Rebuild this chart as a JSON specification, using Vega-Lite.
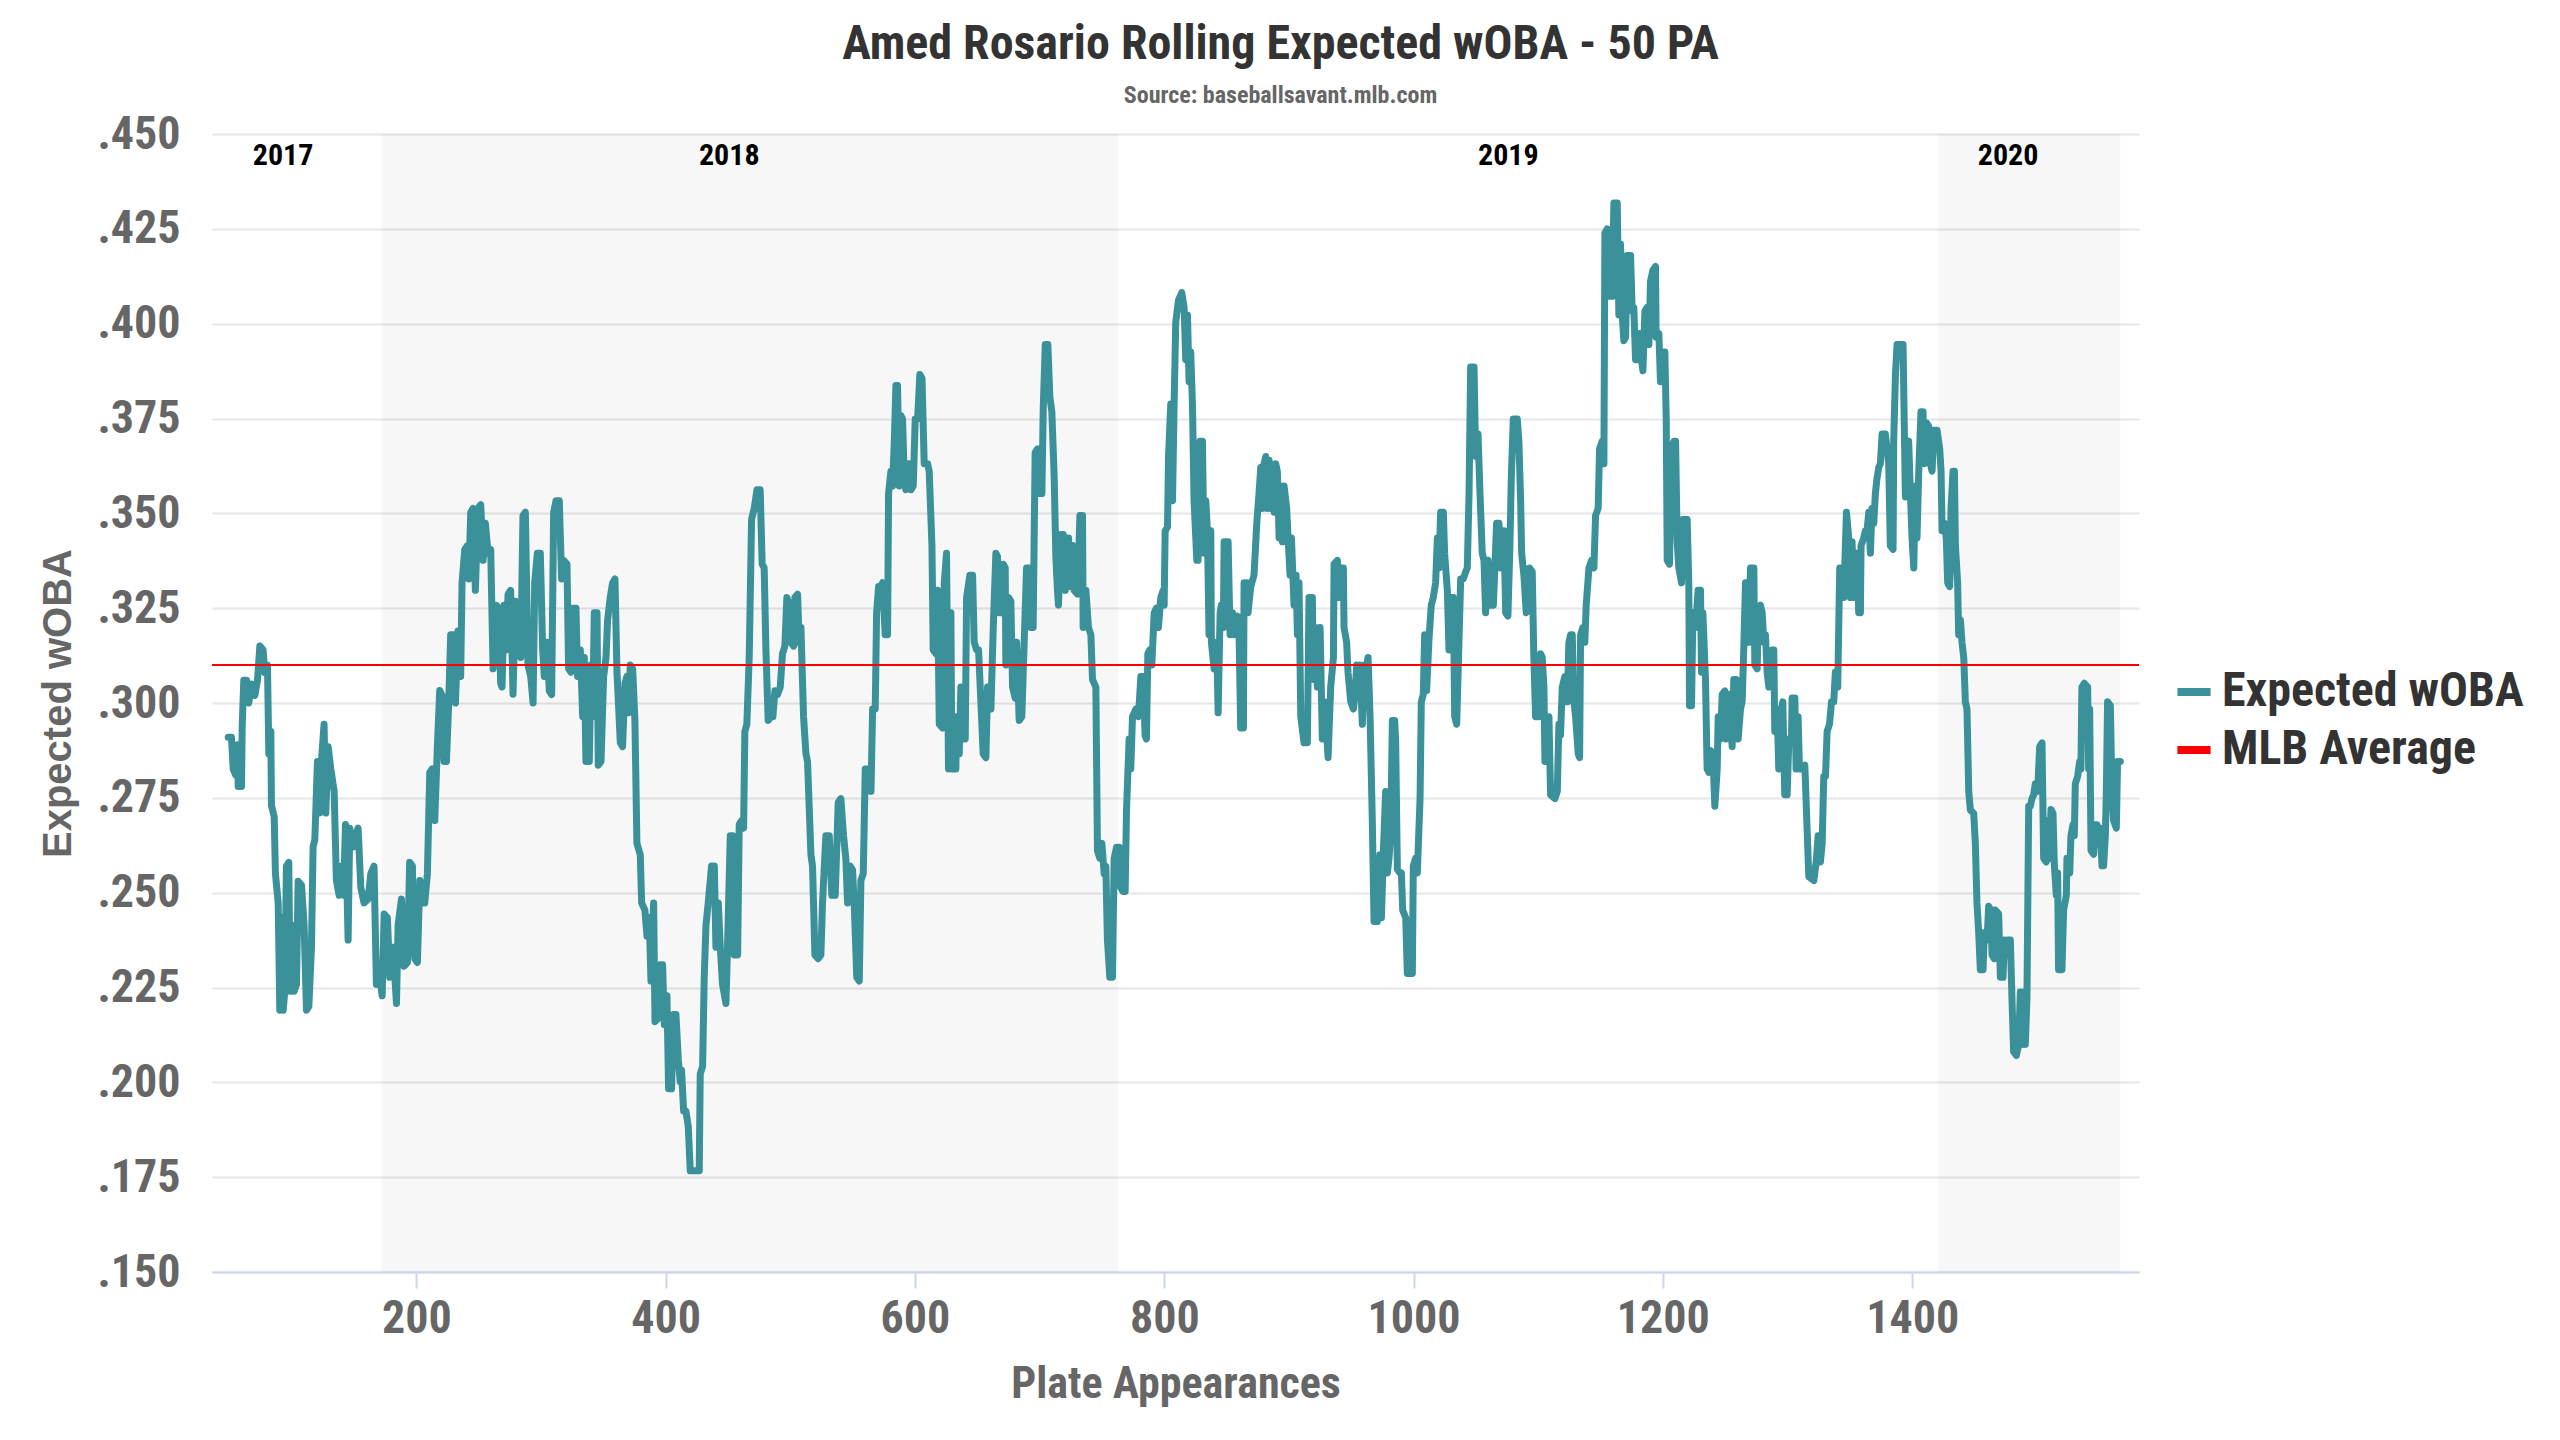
{
  "$schema": "https://vega.github.io/schema/vega-lite/v6.json",
  "width": 1927,
  "height": 1138,
  "autosize": {"type": "none"},
  "padding": {"left": 212, "top": 134, "right": 421, "bottom": 168},
  "background": "white",
  "title": {
    "text": "Amed Rosario Rolling Expected wOBA - 50 PA",
    "subtitle": "Source: baseballsavant.mlb.com",
    "anchor": "middle",
    "dx": 105,
    "offset": 3,
    "font": "Roboto Condensed, Liberation Sans Narrow, Roboto, sans-serif",
    "fontSize": 48,
    "fontWeight": "bold",
    "color": "#333333",
    "subtitleFont": "Roboto Condensed, Liberation Sans Narrow, Roboto, sans-serif",
    "subtitleFontSize": 24,
    "subtitleFontWeight": "bold",
    "subtitleColor": "#666666",
    "subtitlePadding": 15
  },
  "datasets": {
    "bands": [
      {"start": 172, "end": 763},
      {"start": 1421, "end": 1567}
    ],
    "years": [
      {"pa": 93, "v": 0.4441, "label": "2017"},
      {"pa": 451, "v": 0.4441, "label": "2018"},
      {"pa": 1076, "v": 0.4441, "label": "2019"},
      {"pa": 1477, "v": 0.4441, "label": "2020"}
    ],
    "average": [
      {"v": 0.31}
    ],
    "xwoba": [
      {"pa":49.0,"v":0.291},{"pa":51.6,"v":0.291},{"pa":53.0,"v":0.2826},{"pa":54.9,"v":0.281},{"pa":56.5,"v":0.289},{"pa":57.0,"v":0.278},{"pa":59.7,"v":0.278},{"pa":60.2,"v":0.2935},{"pa":61.5,"v":0.306},{"pa":63.7,"v":0.306},{"pa":65.5,"v":0.300},{"pa":67.7,"v":0.305},{"pa":70.4,"v":0.302},{"pa":72.5,"v":0.306},{"pa":74.4,"v":0.315},{"pa":77.0,"v":0.314},{"pa":78.4,"v":0.308},{"pa":80.5,"v":0.310},{"pa":81.6,"v":0.2866},{"pa":83.2,"v":0.2925},{"pa":83.7,"v":0.273},{"pa":85.9,"v":0.270},{"pa":86.9,"v":0.255},{"pa":89.1,"v":0.2473},{"pa":90.4,"v":0.219},{"pa":92.3,"v":0.2434},{"pa":93.1,"v":0.219},{"pa":94.4,"v":0.224},{"pa":95.7,"v":0.257},{"pa":97.6,"v":0.258},{"pa":98.7,"v":0.224},{"pa":100.3,"v":0.2414},{"pa":101.9,"v":0.224},{"pa":103.8,"v":0.2258},{"pa":105.1,"v":0.253},{"pa":107.8,"v":0.252},{"pa":109.9,"v":0.2414},{"pa":111.8,"v":0.219},{"pa":113.7,"v":0.220},{"pa":115.8,"v":0.2356},{"pa":117.1,"v":0.262},{"pa":118.5,"v":0.264},{"pa":120.6,"v":0.2846},{"pa":122.5,"v":0.271},{"pa":123.8,"v":0.2846},{"pa":125.9,"v":0.2944},{"pa":127.3,"v":0.271},{"pa":129.2,"v":0.2885},{"pa":131.3,"v":0.2826},{"pa":134.0,"v":0.2767},{"pa":135.8,"v":0.2532},{"pa":138.0,"v":0.2493},{"pa":139.9,"v":0.257},{"pa":141.5,"v":0.2493},{"pa":143.1,"v":0.268},{"pa":145.2,"v":0.2375},{"pa":146.5,"v":0.267},{"pa":149.2,"v":0.262},{"pa":151.1,"v":0.265},{"pa":153.2,"v":0.267},{"pa":155.4,"v":0.2513},{"pa":158.0,"v":0.2473},{"pa":161.2,"v":0.2483},{"pa":163.4,"v":0.255},{"pa":166.0,"v":0.257},{"pa":167.9,"v":0.2258},{"pa":170.6,"v":0.2277},{"pa":172.5,"v":0.2228},{"pa":174.1,"v":0.2444},{"pa":176.7,"v":0.2434},{"pa":178.6,"v":0.2277},{"pa":181.3,"v":0.2356},{"pa":184.0,"v":0.2208},{"pa":185.3,"v":0.2414},{"pa":188.0,"v":0.2483},{"pa":190.1,"v":0.2306},{"pa":192.8,"v":0.2316},{"pa":194.6,"v":0.258},{"pa":196.8,"v":0.257},{"pa":197.3,"v":0.2414},{"pa":198.7,"v":0.2326},{"pa":200.8,"v":0.2316},{"pa":202.7,"v":0.2532},{"pa":204.5,"v":0.2473},{"pa":206.7,"v":0.2473},{"pa":208.8,"v":0.255},{"pa":210.7,"v":0.2817},{"pa":212.6,"v":0.2826},{"pa":214.7,"v":0.269},{"pa":216.8,"v":0.2885},{"pa":218.7,"v":0.3033},{"pa":220.6,"v":0.302},{"pa":222.2,"v":0.2846},{"pa":224.1,"v":0.2846},{"pa":225.9,"v":0.300},{"pa":227.5,"v":0.318},{"pa":230.2,"v":0.318},{"pa":231.3,"v":0.300},{"pa":233.4,"v":0.319},{"pa":235.5,"v":0.307},{"pa":236.6,"v":0.3317},{"pa":238.8,"v":0.3405},{"pa":240.9,"v":0.3415},{"pa":242.0,"v":0.3327},{"pa":243.6,"v":0.3503},{"pa":245.4,"v":0.3513},{"pa":247.3,"v":0.3297},{"pa":249.4,"v":0.3513},{"pa":251.6,"v":0.3523},{"pa":253.5,"v":0.3376},{"pa":255.3,"v":0.3474},{"pa":257.5,"v":0.3395},{"pa":259.6,"v":0.3405},{"pa":261.5,"v":0.309},{"pa":264.1,"v":0.3258},{"pa":266.0,"v":0.325},{"pa":267.6,"v":0.3052},{"pa":268.7,"v":0.3042},{"pa":270.3,"v":0.3258},{"pa":272.2,"v":0.314},{"pa":273.5,"v":0.3287},{"pa":275.6,"v":0.3297},{"pa":277.5,"v":0.3023},{"pa":279.4,"v":0.3268},{"pa":281.5,"v":0.3199},{"pa":283.7,"v":0.312},{"pa":285.5,"v":0.3494},{"pa":287.4,"v":0.3503},{"pa":289.5,"v":0.310},{"pa":291.7,"v":0.307},{"pa":293.6,"v":0.300},{"pa":294.9,"v":0.3317},{"pa":297.0,"v":0.3395},
      {"pa":299.4,"v":0.3395},{"pa":301.3,"v":0.314},{"pa":302.6,"v":0.307},{"pa":304.8,"v":0.316},{"pa":306.6,"v":0.3032},{"pa":308.5,"v":0.3022},{"pa":310.1,"v":0.3503},{"pa":312.0,"v":0.3533},{"pa":314.6,"v":0.3533},{"pa":316.5,"v":0.3327},{"pa":318.1,"v":0.3376},{"pa":320.8,"v":0.3366},{"pa":322.1,"v":0.309},{"pa":324.0,"v":0.3081},{"pa":325.3,"v":0.325},{"pa":328.0,"v":0.325},{"pa":329.3,"v":0.307},{"pa":331.5,"v":0.314},{"pa":333.4,"v":0.2964},{"pa":334.7,"v":0.312},{"pa":336.0,"v":0.2846},{"pa":338.7,"v":0.2846},{"pa":340.0,"v":0.310},{"pa":341.4,"v":0.2964},{"pa":342.7,"v":0.3238},{"pa":344.9,"v":0.3238},{"pa":345.9,"v":0.2836},{"pa":348.1,"v":0.2846},{"pa":350.2,"v":0.307},{"pa":352.1,"v":0.312},{"pa":353.4,"v":0.3219},{"pa":355.5,"v":0.3278},{"pa":357.4,"v":0.3317},{"pa":359.3,"v":0.3327},{"pa":360.9,"v":0.3081},{"pa":363.6,"v":0.2895},{"pa":365.4,"v":0.2885},{"pa":367.3,"v":0.3052},{"pa":368.9,"v":0.307},{"pa":370.0,"v":0.2974},{"pa":371.6,"v":0.310},{"pa":373.5,"v":0.309},{"pa":375.3,"v":0.2954},{"pa":376.9,"v":0.263},{"pa":379.6,"v":0.260},{"pa":380.7,"v":0.2473},{"pa":383.3,"v":0.2454},{"pa":385.0,"v":0.2385},{"pa":386.8,"v":0.2434},{"pa":388.2,"v":0.2267},{"pa":390.3,"v":0.2473},{"pa":391.4,"v":0.216},{"pa":394.0,"v":0.2169},{"pa":395.6,"v":0.231},{"pa":397.5,"v":0.231},{"pa":398.9,"v":0.2152},{"pa":401.0,"v":0.2228},{"pa":402.3,"v":0.1983},{"pa":404.7,"v":0.1983},{"pa":406.3,"v":0.2179},{"pa":408.2,"v":0.2179},{"pa":410.1,"v":0.2061},{"pa":411.7,"v":0.2002},{"pa":412.7,"v":0.2032},{"pa":414.4,"v":0.1924},{"pa":416.2,"v":0.1924},{"pa":418.1,"v":0.1884},{"pa":419.7,"v":0.1767},{"pa":426.9,"v":0.1767},{"pa":427.7,"v":0.2022},{"pa":429.6,"v":0.2042},{"pa":430.9,"v":0.2277},{"pa":432.3,"v":0.2414},{"pa":434.1,"v":0.2473},{"pa":436.8,"v":0.257},{"pa":439.0,"v":0.257},{"pa":440.3,"v":0.2356},{"pa":442.2,"v":0.2473},{"pa":443.8,"v":0.2356},{"pa":445.6,"v":0.2258},{"pa":448.3,"v":0.2208},{"pa":449.6,"v":0.2356},{"pa":451.8,"v":0.265},{"pa":453.7,"v":0.265},{"pa":455.0,"v":0.2336},{"pa":457.7,"v":0.2336},{"pa":459.0,"v":0.268},{"pa":460.9,"v":0.269},{"pa":462.5,"v":0.267},{"pa":463.5,"v":0.2925},{"pa":465.1,"v":0.2944},{"pa":467.0,"v":0.312},{"pa":468.9,"v":0.3484},{"pa":471.0,"v":0.3513},{"pa":473.2,"v":0.3562},{"pa":475.8,"v":0.3562},{"pa":477.4,"v":0.3366},{"pa":479.0,"v":0.3356},{"pa":480.4,"v":0.314},{"pa":482.2,"v":0.2954},{"pa":484.4,"v":0.2964},{"pa":486.0,"v":0.2964},{"pa":487.6,"v":0.3032},{"pa":489.7,"v":0.3022},{"pa":491.9,"v":0.3042},{"pa":493.7,"v":0.313},{"pa":495.6,"v":0.315},{"pa":497.2,"v":0.3278},{"pa":499.1,"v":0.3258},{"pa":500.4,"v":0.316},{"pa":502.6,"v":0.315},{"pa":503.6,"v":0.3278},{"pa":505.8,"v":0.3287},{"pa":507.1,"v":0.316},{"pa":508.5,"v":0.3199},{"pa":510.6,"v":0.2964},{"pa":512.5,"v":0.2866},{"pa":513.8,"v":0.2846},{"pa":516.5,"v":0.260},{"pa":517.8,"v":0.257},{"pa":519.7,"v":0.2336},{"pa":522.3,"v":0.2326},{"pa":524.5,"v":0.2336},{"pa":525.8,"v":0.2473},{"pa":528.5,"v":0.265},{"pa":531.2,"v":0.265},{"pa":533.3,"v":0.2493},{"pa":534.6,"v":0.2513},{"pa":536.0,"v":0.2493},{"pa":538.4,"v":0.2738},{"pa":540.5,"v":0.2748},{"pa":542.7,"v":0.265},{"pa":544.5,"v":0.259},{"pa":545.9,"v":0.2473},{"pa":548.0,"v":0.257},{"pa":549.9,"v":0.256},{"pa":551.2,"v":0.2473},{"pa":553.3,"v":0.2277},
      {"pa":555.3,"v":0.2267},{"pa":556.6,"v":0.2532},{"pa":558.5,"v":0.255},{"pa":560.1,"v":0.2826},{"pa":563.3,"v":0.2826},{"pa":564.7,"v":0.2767},{"pa":566.0,"v":0.2984},{"pa":568.1,"v":0.2984},{"pa":569.2,"v":0.3238},{"pa":570.8,"v":0.3307},{"pa":572.7,"v":0.3307},{"pa":574.0,"v":0.3317},{"pa":576.1,"v":0.318},{"pa":578.0,"v":0.318},{"pa":578.8,"v":0.3552},{"pa":580.7,"v":0.3611},{"pa":582.0,"v":0.3572},{"pa":583.4,"v":0.369},{"pa":584.7,"v":0.3837},{"pa":586.0,"v":0.3837},{"pa":587.4,"v":0.3572},{"pa":588.7,"v":0.3758},{"pa":590.0,"v":0.3749},{"pa":591.4,"v":0.3592},{"pa":592.7,"v":0.3562},{"pa":594.9,"v":0.3631},{"pa":596.7,"v":0.3562},{"pa":598.6,"v":0.3572},{"pa":600.2,"v":0.3749},{"pa":602.1,"v":0.3749},{"pa":603.9,"v":0.3866},{"pa":605.6,"v":0.3856},{"pa":607.4,"v":0.3631},{"pa":610.1,"v":0.3631},{"pa":611.4,"v":0.3611},{"pa":613.6,"v":0.3415},{"pa":614.6,"v":0.314},{"pa":616.8,"v":0.313},{"pa":618.1,"v":0.3297},{"pa":619.5,"v":0.2944},{"pa":622.1,"v":0.2934},{"pa":623.5,"v":0.3317},{"pa":625.3,"v":0.3395},{"pa":626.9,"v":0.2826},{"pa":628.8,"v":0.3238},{"pa":629.6,"v":0.2826},{"pa":632.8,"v":0.2826},{"pa":633.4,"v":0.2964},{"pa":635.5,"v":0.2866},{"pa":636.8,"v":0.3042},{"pa":638.7,"v":0.2905},{"pa":640.3,"v":0.2905},{"pa":641.4,"v":0.3278},{"pa":644.0,"v":0.3337},{"pa":646.2,"v":0.3337},{"pa":647.5,"v":0.316},{"pa":649.4,"v":0.314},{"pa":651.0,"v":0.314},{"pa":652.9,"v":0.300},{"pa":654.7,"v":0.2866},{"pa":656.9,"v":0.2856},{"pa":658.2,"v":0.3042},{"pa":660.9,"v":0.2984},{"pa":662.8,"v":0.3199},{"pa":664.9,"v":0.3395},{"pa":666.2,"v":0.3386},{"pa":667.6,"v":0.3238},{"pa":668.9,"v":0.3238},{"pa":670.8,"v":0.3366},{"pa":672.4,"v":0.3356},{"pa":672.9,"v":0.310},{"pa":675.1,"v":0.3278},{"pa":676.9,"v":0.3268},{"pa":678.3,"v":0.3042},{"pa":680.4,"v":0.3013},{"pa":681.5,"v":0.316},{"pa":683.6,"v":0.2954},{"pa":685.7,"v":0.2964},{"pa":687.6,"v":0.316},{"pa":689.5,"v":0.3356},{"pa":691.6,"v":0.3356},{"pa":693.0,"v":0.3199},{"pa":694.8,"v":0.3199},{"pa":696.4,"v":0.366},{"pa":698.3,"v":0.367},{"pa":699.6,"v":0.3552},{"pa":701.8,"v":0.3552},{"pa":702.9,"v":0.3778},{"pa":704.5,"v":0.3945},{"pa":706.6,"v":0.3945},{"pa":708.2,"v":0.3807},{"pa":709.8,"v":0.3768},{"pa":711.7,"v":0.3592},{"pa":713.0,"v":0.3386},{"pa":714.3,"v":0.3297},{"pa":715.1,"v":0.3258},{"pa":717.0,"v":0.3444},{"pa":718.9,"v":0.3444},{"pa":720.5,"v":0.3297},{"pa":721.6,"v":0.3435},{"pa":723.2,"v":0.3435},{"pa":724.2,"v":0.3307},{"pa":726.4,"v":0.3415},{"pa":727.7,"v":0.3297},{"pa":730.4,"v":0.3287},{"pa":732.3,"v":0.3494},{"pa":734.4,"v":0.3494},{"pa":734.9,"v":0.3199},{"pa":737.1,"v":0.3297},{"pa":739.2,"v":0.3199},{"pa":741.1,"v":0.318},{"pa":742.4,"v":0.3062},{"pa":745.1,"v":0.3042},{"pa":746.4,"v":0.261},{"pa":748.3,"v":0.2591},{"pa":749.9,"v":0.263},{"pa":751.8,"v":0.255},{"pa":753.1,"v":0.257},{"pa":754.4,"v":0.2375},{"pa":756.3,"v":0.2277},{"pa":758.4,"v":0.2277},{"pa":759.8,"v":0.2591},{"pa":761.7,"v":0.262},{"pa":763.8,"v":0.262},{"pa":765.1,"v":0.2513},{"pa":767.0,"v":0.2503},{"pa":768.6,"v":0.2503},{"pa":769.7,"v":0.2718},{"pa":771.8,"v":0.2905},{"pa":773.1,"v":0.2826},{"pa":774.5,"v":0.2964},{"pa":777.2,"v":0.2984},{"pa":779.3,"v":0.2964},{"pa":781.2,"v":0.307},{"pa":783.0,"v":0.307},{"pa":784.6,"v":0.2915},{"pa":785.7,"v":0.2905},{"pa":786.8,"v":0.313},{"pa":788.4,"v":0.314},{"pa":790.0,"v":0.310},{"pa":791.9,"v":0.3238},{"pa":793.7,"v":0.325},{"pa":795.3,"v":0.3199},{"pa":797.2,"v":0.3278},{"pa":799.1,"v":0.3297},{"pa":799.9,"v":0.3258},{"pa":800.7,"v":0.3454},{"pa":802.6,"v":0.3464},{"pa":803.4,"v":0.365},{"pa":805.2,"v":0.3788},{"pa":806.6,"v":0.3533},{"pa":807.9,"v":0.3788},{"pa":809.2,"v":0.4004},{"pa":811.4,"v":0.4062},{"pa":814.0,"v":0.4082},{"pa":815.9,"v":0.4043},
      {"pa":817.2,"v":0.3905},{"pa":818.6,"v":0.4023},{"pa":819.9,"v":0.3847},{"pa":821.2,"v":0.3925},{"pa":822.6,"v":0.3788},{"pa":823.9,"v":0.3533},{"pa":826.1,"v":0.3376},{"pa":827.1,"v":0.3376},{"pa":828.7,"v":0.369},{"pa":830.6,"v":0.369},{"pa":831.9,"v":0.3395},{"pa":833.3,"v":0.3533},{"pa":834.6,"v":0.3454},{"pa":835.9,"v":0.318},{"pa":837.3,"v":0.3454},{"pa":837.8,"v":0.316},{"pa":840.0,"v":0.309},{"pa":842.1,"v":0.316},{"pa":843.2,"v":0.2974},{"pa":844.8,"v":0.3238},{"pa":845.8,"v":0.3258},{"pa":847.4,"v":0.3199},{"pa":848.0,"v":0.3425},{"pa":851.2,"v":0.3425},{"pa":852.8,"v":0.318},{"pa":854.7,"v":0.3238},{"pa":856.0,"v":0.318},{"pa":858.7,"v":0.3229},{"pa":860.0,"v":0.318},{"pa":861.3,"v":0.2934},{"pa":863.5,"v":0.2934},{"pa":864.0,"v":0.3317},{"pa":866.2,"v":0.3317},{"pa":867.2,"v":0.3238},{"pa":869.4,"v":0.3307},{"pa":872.0,"v":0.3337},{"pa":874.2,"v":0.3474},{"pa":876.0,"v":0.3552},{"pa":877.4,"v":0.3621},{"pa":878.7,"v":0.3513},{"pa":880.1,"v":0.3631},{"pa":881.4,"v":0.365},{"pa":882.7,"v":0.3513},{"pa":884.1,"v":0.364},{"pa":885.4,"v":0.3513},{"pa":886.7,"v":0.3621},{"pa":888.1,"v":0.3503},{"pa":889.4,"v":0.3631},{"pa":890.7,"v":0.3611},{"pa":892.1,"v":0.3435},{"pa":893.4,"v":0.3572},{"pa":894.8,"v":0.3425},{"pa":896.1,"v":0.3572},{"pa":898.2,"v":0.3513},{"pa":899.3,"v":0.3435},{"pa":900.9,"v":0.3337},{"pa":902.0,"v":0.3435},{"pa":904.1,"v":0.3258},{"pa":905.7,"v":0.3337},{"pa":906.8,"v":0.318},{"pa":908.1,"v":0.3317},{"pa":909.5,"v":0.2964},{"pa":912.1,"v":0.2895},{"pa":914.8,"v":0.2895},{"pa":916.1,"v":0.3278},{"pa":918.8,"v":0.3278},{"pa":919.6,"v":0.3062},{"pa":921.5,"v":0.3199},{"pa":922.8,"v":0.3042},{"pa":925.0,"v":0.3199},{"pa":926.8,"v":0.2905},{"pa":928.2,"v":0.3003},{"pa":929.5,"v":0.2964},{"pa":931.4,"v":0.2856},{"pa":933.5,"v":0.3042},{"pa":935.7,"v":0.312},{"pa":936.2,"v":0.3366},{"pa":938.9,"v":0.3376},{"pa":940.2,"v":0.3278},{"pa":941.5,"v":0.3356},{"pa":943.7,"v":0.3356},{"pa":944.2,"v":0.3199},{"pa":946.3,"v":0.316},{"pa":947.4,"v":0.3081},{"pa":949.6,"v":0.3003},{"pa":951.7,"v":0.2984},{"pa":953.0,"v":0.3023},{"pa":954.4,"v":0.310},{"pa":955.4,"v":0.309},{"pa":957.0,"v":0.310},{"pa":958.9,"v":0.2944},{"pa":960.2,"v":0.310},{"pa":962.4,"v":0.310},{"pa":963.5,"v":0.312},{"pa":965.1,"v":0.2964},{"pa":966.9,"v":0.2689},{"pa":968.3,"v":0.2424},{"pa":970.9,"v":0.2424},{"pa":973.1,"v":0.260},{"pa":974.2,"v":0.2434},{"pa":975.8,"v":0.2611},{"pa":977.6,"v":0.2767},{"pa":979.0,"v":0.2552},{"pa":980.3,"v":0.2591},{"pa":981.6,"v":0.265},{"pa":983.0,"v":0.2954},{"pa":984.8,"v":0.2954},{"pa":985.6,"v":0.2905},{"pa":987.0,"v":0.2562},{"pa":989.1,"v":0.2552},{"pa":990.2,"v":0.2552},{"pa":991.3,"v":0.2454},{"pa":993.7,"v":0.2434},{"pa":995.0,"v":0.2287},{"pa":999.0,"v":0.2287},{"pa":999.8,"v":0.2571},{"pa":1001.7,"v":0.2591},{"pa":1003.0,"v":0.2552},{"pa":1005.2,"v":0.2748},{"pa":1006.2,"v":0.3003},{"pa":1007.8,"v":0.3023},{"pa":1008.9,"v":0.318},{"pa":1010.5,"v":0.3033},{"pa":1012.4,"v":0.317},{"pa":1014.2,"v":0.3258},{"pa":1015.8,"v":0.3278},{"pa":1017.7,"v":0.3317},{"pa":1019.1,"v":0.3435},{"pa":1020.4,"v":0.3356},{"pa":1021.7,"v":0.3503},{"pa":1023.9,"v":0.3503},{"pa":1024.9,"v":0.3395},{"pa":1027.1,"v":0.3297},{"pa":1028.4,"v":0.314},{"pa":1029.8,"v":0.3278},{"pa":1031.9,"v":0.3278},{"pa":1033.0,"v":0.2964},{"pa":1034.6,"v":0.2944},{"pa":1036.4,"v":0.316},{"pa":1037.8,"v":0.3327},{"pa":1039.9,"v":0.3327},{"pa":1041.8,"v":0.3346},{"pa":1043.1,"v":0.3356},{"pa":1044.5,"v":0.3552},{"pa":1045.8,"v":0.3886},{"pa":1048.5,"v":0.3886},{"pa":1049.8,"v":0.365},{"pa":1051.7,"v":0.3709},{"pa":1053.3,"v":0.3552},{"pa":1055.1,"v":0.3395},{"pa":1056.5,"v":0.3376},{"pa":1057.8,"v":0.3238},{"pa":1059.7,"v":0.3376},{"pa":1061.3,"v":0.3258},{"pa":1064.0,"v":0.3258},{"pa":1065.0,"v":0.3337},{"pa":1066.6,"v":0.3474},{"pa":1068.5,"v":0.3474},{"pa":1069.8,"v":0.3356},{"pa":1071.2,"v":0.3454},{"pa":1072.5,"v":0.3454},{"pa":1073.9,"v":0.3238},{"pa":1075.7,"v":0.3229},{"pa":1077.3,"v":0.3415},{"pa":1078.4,"v":0.3592},{"pa":1080.0,"v":0.3749},
      {"pa":1083.2,"v":0.3749},{"pa":1084.5,"v":0.369},{"pa":1085.9,"v":0.3533},{"pa":1086.7,"v":0.3395},{"pa":1088.5,"v":0.3337},{"pa":1090.4,"v":0.3238},{"pa":1092.0,"v":0.3248},{"pa":1093.1,"v":0.3356},{"pa":1095.2,"v":0.3346},{"pa":1096.5,"v":0.312},{"pa":1097.9,"v":0.2964},{"pa":1100.6,"v":0.2964},{"pa":1101.9,"v":0.313},{"pa":1103.2,"v":0.312},{"pa":1104.6,"v":0.3042},{"pa":1105.4,"v":0.2846},{"pa":1107.2,"v":0.2846},{"pa":1108.6,"v":0.2964},{"pa":1109.9,"v":0.2758},{"pa":1113.4,"v":0.2748},{"pa":1115.3,"v":0.2767},{"pa":1116.6,"v":0.2944},{"pa":1117.9,"v":0.2915},{"pa":1119.3,"v":0.3042},{"pa":1121.4,"v":0.307},{"pa":1123.3,"v":0.3003},{"pa":1124.6,"v":0.316},{"pa":1126.0,"v":0.318},{"pa":1127.3,"v":0.318},{"pa":1128.6,"v":0.3003},{"pa":1130.0,"v":0.2964},{"pa":1132.1,"v":0.2866},{"pa":1133.2,"v":0.2856},{"pa":1134.0,"v":0.318},{"pa":1135.8,"v":0.3199},{"pa":1137.4,"v":0.316},{"pa":1138.5,"v":0.3258},{"pa":1140.7,"v":0.3356},{"pa":1142.8,"v":0.3376},{"pa":1144.7,"v":0.3356},{"pa":1146.0,"v":0.3494},{"pa":1148.1,"v":0.3513},{"pa":1149.2,"v":0.367},{"pa":1151.3,"v":0.369},{"pa":1152.7,"v":0.3631},{"pa":1153.5,"v":0.4239},{"pa":1155.4,"v":0.425},{"pa":1156.7,"v":0.4072},{"pa":1158.0,"v":0.4239},{"pa":1159.4,"v":0.4072},{"pa":1160.7,"v":0.4318},{"pa":1163.4,"v":0.4318},{"pa":1164.7,"v":0.4023},{"pa":1166.0,"v":0.421},{"pa":1167.4,"v":0.4023},{"pa":1168.7,"v":0.3955},{"pa":1170.1,"v":0.3964},{"pa":1171.4,"v":0.418},{"pa":1174.1,"v":0.418},{"pa":1175.4,"v":0.4033},{"pa":1176.7,"v":0.4043},{"pa":1178.1,"v":0.3905},{"pa":1180.2,"v":0.3905},{"pa":1181.3,"v":0.3974},{"pa":1182.9,"v":0.3905},{"pa":1184.0,"v":0.3876},{"pa":1185.6,"v":0.4033},{"pa":1187.4,"v":0.4043},{"pa":1188.8,"v":0.3945},{"pa":1190.1,"v":0.4112},{"pa":1192.0,"v":0.4141},{"pa":1194.1,"v":0.4151},{"pa":1194.6,"v":0.3964},{"pa":1196.8,"v":0.3974},{"pa":1198.1,"v":0.3847},{"pa":1200.0,"v":0.3925},{"pa":1201.6,"v":0.3925},{"pa":1202.7,"v":0.3749},{"pa":1203.5,"v":0.3376},{"pa":1205.3,"v":0.3366},{"pa":1207.0,"v":0.367},{"pa":1208.8,"v":0.369},{"pa":1210.2,"v":0.369},{"pa":1211.5,"v":0.3425},{"pa":1212.8,"v":0.3356},{"pa":1215.0,"v":0.3317},{"pa":1216.0,"v":0.3484},{"pa":1219.5,"v":0.3484},{"pa":1220.8,"v":0.3317},{"pa":1221.4,"v":0.2993},{"pa":1223.0,"v":0.2993},{"pa":1224.1,"v":0.3238},{"pa":1226.2,"v":0.3199},{"pa":1228.3,"v":0.3297},{"pa":1230.2,"v":0.3297},{"pa":1231.0,"v":0.3081},{"pa":1232.1,"v":0.3238},{"pa":1234.2,"v":0.3062},{"pa":1235.5,"v":0.2826},{"pa":1236.9,"v":0.2817},{"pa":1238.2,"v":0.2875},{"pa":1240.1,"v":0.2866},{"pa":1241.7,"v":0.2728},{"pa":1243.6,"v":0.2826},{"pa":1244.4,"v":0.2964},{"pa":1246.2,"v":0.2905},{"pa":1247.6,"v":0.3023},{"pa":1249.7,"v":0.3032},{"pa":1250.8,"v":0.2905},{"pa":1252.4,"v":0.3023},{"pa":1254.3,"v":0.2964},{"pa":1255.6,"v":0.2885},{"pa":1256.9,"v":0.3062},{"pa":1258.8,"v":0.3062},{"pa":1260.4,"v":0.2905},{"pa":1262.3,"v":0.2984},{"pa":1263.6,"v":0.3003},{"pa":1264.9,"v":0.314},{"pa":1266.3,"v":0.3317},{"pa":1267.6,"v":0.3317},{"pa":1269.0,"v":0.316},{"pa":1270.3,"v":0.3356},{"pa":1273.0,"v":0.3356},{"pa":1273.8,"v":0.310},{"pa":1275.7,"v":0.309},{"pa":1276.5,"v":0.325},{"pa":1278.3,"v":0.3258},{"pa":1279.7,"v":0.3238},{"pa":1281.0,"v":0.316},{"pa":1282.3,"v":0.318},{"pa":1283.7,"v":0.3081},{"pa":1285.0,"v":0.3042},{"pa":1286.4,"v":0.312},{"pa":1287.7,"v":0.314},{"pa":1289.0,"v":0.314},{"pa":1289.8,"v":0.2925},{"pa":1291.7,"v":0.2984},{"pa":1293.0,"v":0.2826},{"pa":1295.2,"v":0.2984},{"pa":1296.2,"v":0.3003},{"pa":1297.8,"v":0.2758},{"pa":1299.7,"v":0.2758},{"pa":1301.1,"v":0.2905},{"pa":1303.2,"v":0.2905},{"pa":1303.7,"v":0.3013},{"pa":1305.9,"v":0.3013},{"pa":1306.9,"v":0.2826},{"pa":1308.5,"v":0.2964},{"pa":1309.6,"v":0.2826},{"pa":1311.7,"v":0.2826},{"pa":1313.9,"v":0.2836},{"pa":1315.7,"v":0.267},{"pa":1317.1,"v":0.2542},{"pa":1321.1,"v":0.2532},{"pa":1323.0,"v":0.2581},{"pa":1324.6,"v":0.265},{"pa":1326.4,"v":0.2581},{"pa":1327.8,"v":0.263},{"pa":1329.1,"v":0.2807},{"pa":1330.5,"v":0.2807},{"pa":1331.8,"v":0.2925},{"pa":1333.7,"v":0.2944},{"pa":1335.3,"v":0.3003},{"pa":1337.1,"v":0.3003},
      {"pa":1338.4,"v":0.3081},{"pa":1340.3,"v":0.3042},{"pa":1341.9,"v":0.3356},{"pa":1343.8,"v":0.3356},{"pa":1345.1,"v":0.3278},{"pa":1347.3,"v":0.3503},{"pa":1349.1,"v":0.3435},{"pa":1350.5,"v":0.3278},{"pa":1351.8,"v":0.3425},{"pa":1353.1,"v":0.3278},{"pa":1354.5,"v":0.3395},{"pa":1356.3,"v":0.3395},{"pa":1357.1,"v":0.3238},{"pa":1358.5,"v":0.3238},{"pa":1359.0,"v":0.3415},{"pa":1361.2,"v":0.3435},{"pa":1362.5,"v":0.3454},{"pa":1363.8,"v":0.3454},{"pa":1365.2,"v":0.3503},{"pa":1366.5,"v":0.3395},{"pa":1367.8,"v":0.3513},{"pa":1369.2,"v":0.3474},{"pa":1370.5,"v":0.3552},{"pa":1371.8,"v":0.3592},{"pa":1373.2,"v":0.3621},{"pa":1374.5,"v":0.3631},{"pa":1375.9,"v":0.3709},{"pa":1378.5,"v":0.3709},{"pa":1379.9,"v":0.367},{"pa":1381.2,"v":0.3631},{"pa":1382.5,"v":0.3415},{"pa":1384.7,"v":0.3405},{"pa":1385.2,"v":0.369},{"pa":1386.6,"v":0.3866},{"pa":1387.9,"v":0.3945},{"pa":1392.7,"v":0.3945},{"pa":1393.8,"v":0.3709},{"pa":1394.6,"v":0.3543},{"pa":1395.9,"v":0.369},{"pa":1397.2,"v":0.369},{"pa":1398.6,"v":0.3552},{"pa":1399.9,"v":0.3435},{"pa":1401.3,"v":0.3356},{"pa":1402.6,"v":0.3572},{"pa":1403.9,"v":0.3435},{"pa":1405.3,"v":0.3611},{"pa":1407.1,"v":0.3768},{"pa":1408.7,"v":0.3768},{"pa":1409.8,"v":0.3631},{"pa":1411.4,"v":0.3739},{"pa":1413.3,"v":0.3729},{"pa":1414.6,"v":0.3631},{"pa":1416.0,"v":0.3611},{"pa":1417.3,"v":0.3719},{"pa":1420.0,"v":0.3719},{"pa":1422.1,"v":0.367},{"pa":1423.2,"v":0.3611},{"pa":1424.0,"v":0.3454},{"pa":1425.8,"v":0.3474},{"pa":1427.4,"v":0.3435},{"pa":1428.5,"v":0.3317},{"pa":1430.1,"v":0.3307},{"pa":1431.2,"v":0.3513},{"pa":1432.8,"v":0.3611},{"pa":1433.9,"v":0.3611},{"pa":1434.7,"v":0.3415},{"pa":1436.5,"v":0.3317},{"pa":1437.3,"v":0.318},{"pa":1438.7,"v":0.3219},{"pa":1440.0,"v":0.316},{"pa":1441.4,"v":0.312},{"pa":1442.7,"v":0.3003},{"pa":1444.0,"v":0.2984},{"pa":1445.4,"v":0.2767},{"pa":1446.7,"v":0.2718},{"pa":1449.4,"v":0.2709},{"pa":1450.7,"v":0.263},{"pa":1452.0,"v":0.2473},{"pa":1453.4,"v":0.2395},{"pa":1454.7,"v":0.2297},{"pa":1456.9,"v":0.2297},{"pa":1457.9,"v":0.2395},{"pa":1460.1,"v":0.2375},{"pa":1461.4,"v":0.2464},{"pa":1463.3,"v":0.2454},{"pa":1464.1,"v":0.2336},{"pa":1465.9,"v":0.2326},{"pa":1466.7,"v":0.2454},{"pa":1469.4,"v":0.2444},{"pa":1470.8,"v":0.2277},{"pa":1472.9,"v":0.2277},{"pa":1474.0,"v":0.2375},{"pa":1475.6,"v":0.2336},{"pa":1476.6,"v":0.2375},{"pa":1478.8,"v":0.2375},{"pa":1480.1,"v":0.2218},{"pa":1481.4,"v":0.2081},{"pa":1483.6,"v":0.2071},{"pa":1485.5,"v":0.21},{"pa":1486.8,"v":0.2238},{"pa":1488.1,"v":0.21},{"pa":1489.5,"v":0.2238},{"pa":1490.8,"v":0.21},{"pa":1492.1,"v":0.222},{"pa":1493.5,"v":0.2728},{"pa":1494.8,"v":0.2728},{"pa":1496.1,"v":0.2748},{"pa":1497.5,"v":0.2758},{"pa":1498.8,"v":0.2787},{"pa":1500.7,"v":0.2767},{"pa":1502.3,"v":0.2885},{"pa":1504.2,"v":0.2895},{"pa":1505.5,"v":0.2591},{"pa":1507.6,"v":0.2581},{"pa":1508.7,"v":0.269},{"pa":1510.3,"v":0.2591},{"pa":1511.4,"v":0.2719},{"pa":1513.0,"v":0.2709},{"pa":1514.1,"v":0.2571},{"pa":1515.7,"v":0.2493},{"pa":1516.7,"v":0.2552},{"pa":1517.5,"v":0.2297},{"pa":1520.2,"v":0.2297},{"pa":1521.5,"v":0.2454},{"pa":1523.7,"v":0.2493},{"pa":1524.2,"v":0.2591},{"pa":1526.4,"v":0.2552},{"pa":1527.4,"v":0.265},{"pa":1529.0,"v":0.2679},{"pa":1530.1,"v":0.265},{"pa":1530.9,"v":0.2787},{"pa":1532.8,"v":0.2807},{"pa":1534.4,"v":0.2846},{"pa":1535.4,"v":0.2826},{"pa":1536.2,"v":0.3042},{"pa":1538.1,"v":0.3052},{"pa":1540.8,"v":0.3042},{"pa":1541.6,"v":0.2826},{"pa":1542.4,"v":0.2984},{"pa":1543.5,"v":0.2611},{"pa":1545.6,"v":0.2601},{"pa":1547.0,"v":0.2679},{"pa":1548.3,"v":0.2679},{"pa":1549.6,"v":0.267},{"pa":1551.0,"v":0.267},{"pa":1552.3,"v":0.2571},{"pa":1553.6,"v":0.2571},{"pa":1555.0,"v":0.265},{"pa":1555.8,"v":0.2767},{"pa":1556.8,"v":0.3003},{"pa":1559.0,"v":0.2993},{"pa":1560.3,"v":0.2767},{"pa":1561.6,"v":0.269},{"pa":1563.8,"v":0.267},{"pa":1564.8,"v":0.2846},{"pa":1567.0,"v":0.2846}
    ]
  },
  "encoding": {
    "x": {
      "field": "pa",
      "type": "quantitative",
      "scale": {"domain": [36, 1582], "nice": false, "zero": false},
      "axis": {
        "title": "Plate Appearances",
        "values": [200, 400, 600, 800, 1000, 1200, 1400],
        "format": "d",
        "grid": false,
        "domainColor": "#ccd6eb",
        "domainWidth": 2,
        "tickColor": "#ccd6eb",
        "tickWidth": 2,
        "tickSize": 16,
        "labelPadding": 8,
        "labelFont": "Roboto Condensed, Liberation Sans Narrow, Roboto, sans-serif",
        "labelFontSize": 46,
        "labelFontWeight": "bold",
        "labelColor": "#666666",
        "titleFont": "Roboto Condensed, Liberation Sans Narrow, Roboto, sans-serif",
        "titleFontSize": 44,
        "titleFontWeight": "bold",
        "titleColor": "#666666",
        "titlePadding": 21
      }
    },
    "y": {
      "field": "v",
      "type": "quantitative",
      "scale": {"domain": [0.15, 0.45], "nice": false, "zero": false},
      "axis": {
        "title": "Expected wOBA",
        "values": [0.15, 0.175, 0.2, 0.225, 0.25, 0.275, 0.3, 0.325, 0.35, 0.375, 0.4, 0.425, 0.45],
        "labelExpr": "substring(format(datum.value, '.3f'), 1)",
        "domain": false,
        "ticks": false,
        "grid": true,
        "gridColor": "#e6e6e6",
        "gridWidth": 2,
        "labelPadding": 32,
        "labelFont": "Roboto Condensed, Liberation Sans Narrow, Roboto, sans-serif",
        "labelFontSize": 46,
        "labelFontWeight": "bold",
        "labelColor": "#666666",
        "titleFont": "Liberation Sans, Arial, sans-serif",
        "titleFontSize": 40,
        "titleFontWeight": "bold",
        "titleColor": "#666666",
        "titleX": -134,
        "titleY": 569,
        "titleBaseline": "bottom"
      }
    }
  },
  "layer": [
    {
      "data": {"name": "bands"},
      "mark": {"type": "rect", "fill": "#000000", "fillOpacity": 0.03},
      "encoding": {
        "x": {"field": "start", "type": "quantitative"},
        "x2": {"field": "end"},
        "y": null
      }
    },
    {
      "data": {"name": "xwoba"},
      "mark": {"type": "line", "strokeWidth": 7, "strokeJoin": "round", "strokeCap": "round"},
      "encoding": {
        "color": {
          "datum": "Expected wOBA",
          "type": "nominal",
          "scale": {"domain": ["Expected wOBA", "MLB Average"], "range": ["#3a9199", "#ff0000"]},
          "legend": {
            "title": null,
            "orient": "none",
            "legendX": 1958,
            "legendY": 534,
            "padding": 0,
            "symbolType": "stroke",
            "symbolStrokeWidth": 8,
            "symbolSize": 1100,
            "labelFont": "Roboto Condensed, Liberation Sans Narrow, Roboto, sans-serif",
            "labelFontSize": 48,
            "labelFontWeight": "bold",
            "labelColor": "#333333",
            "labelLimit": 600,
            "labelOffset": 4,
            "rowPadding": 10
          }
        }
      }
    },
    {
      "data": {"name": "average"},
      "mark": {"type": "rule", "strokeWidth": 2},
      "encoding": {
        "x": null,
        "y": {"field": "v", "type": "quantitative"},
        "color": {"datum": "MLB Average", "type": "nominal"}
      }
    },
    {
      "data": {"name": "years"},
      "mark": {
        "type": "text",
        "font": "Roboto Condensed, Liberation Sans Narrow, Roboto, sans-serif",
        "fontSize": 30,
        "fontWeight": "bold",
        "color": "#000000",
        "baseline": "middle",
        "align": "center"
      },
      "encoding": {
        "text": {"field": "label"}
      }
    }
  ],
  "config": {
    "view": {"stroke": null}
  }
}
